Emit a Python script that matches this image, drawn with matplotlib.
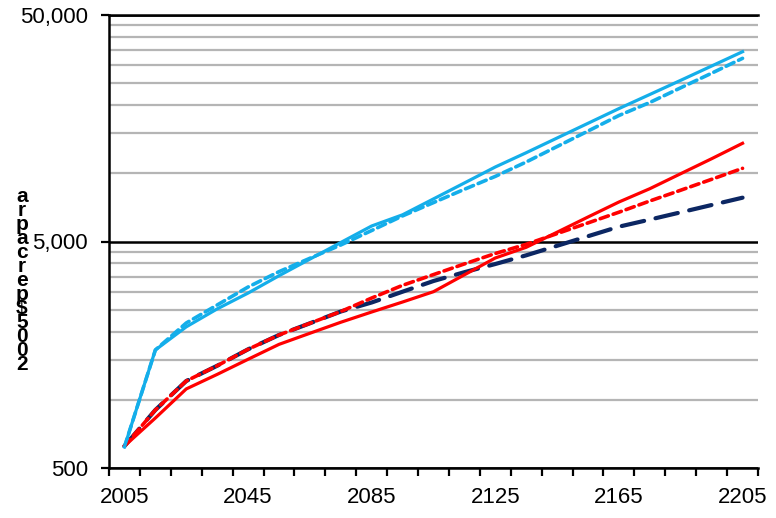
import matplotlib
matplotlib.use('Agg')
import matplotlib.pyplot as plt
import numpy as np

# ---------------- data ----------------
years = list(range(2005, 2206, 10))
label_years = [2005, 2045, 2085, 2125, 2165, 2205]

blue_solid = [620, 1660, 2100, 2520, 2960, 3530, 4180, 4950, 5855, 6560, 7710,
              9065, 10665, 12330, 14320, 16630, 19310, 22290, 25740, 29770, 34430]
blue_dashed = [620, 1660, 2184, 2622, 3148, 3679, 4216, 4826, 5591, 6487, 7426,
               8501, 9692, 11220, 13130, 15370, 18000, 20550, 23860, 27670, 32190]
red_solid = [625, 831, 1117, 1295, 1510, 1757, 1967, 2200, 2442, 2703, 3002,
             3564, 4229, 4714, 5496, 6415, 7470, 8553, 9963, 11600, 13570]
red_dashed = [625, 902, 1211, 1414, 1671, 1933, 2177, 2454, 2815, 3203, 3572,
              3981, 4426, 4860, 5418, 6040, 6734, 7548, 8423, 9410, 10520]
navy_dashed = [625, 902, 1211, 1414, 1671, 1933, 2177, 2454, 2690, 3002, 3346,
               3660, 3977, 4345, 4787, 5276, 5813, 6248, 6727, 7246, 7806]

y_major = [500, 5000, 50000]
y_major_labels = ["500", "5,000", "50,000"]
y_minor = [1000, 1500, 2000, 2500, 3000, 3500, 4000, 4500,
           10000, 15000, 20000, 25000, 30000, 35000, 40000, 45000]
ylabel_chars = ["a", "r", "p", "a", "c", "r", "e", "p", "$", "5", "0", "0", "2"]

# ---------------- figure ----------------
plt.rcParams['font.family'] = ['Liberation Sans', 'DejaVu Sans']
W, H = 776, 518
fig = plt.figure(figsize=(W / 100, H / 100), dpi=100)
ax = fig.add_axes([109 / W, 50 / H, (758 - 109) / W, (468 - 15) / H])

x = np.arange(len(years))
blue = '#14AEEA'
red = '#FF0000'
navy = '#0C2763'

ax.plot(x, navy_dashed, color=navy, lw=3.0, dashes=(5.5, 2.8), zorder=3, dash_capstyle='round')
ax.plot(x, red_dashed, color=red, lw=2.6, dashes=(2.4, 1.4), zorder=4, dash_capstyle='round')
ax.plot(x, red_solid, color=red, lw=2.3, zorder=5)
ax.plot(x, blue_dashed, color=blue, lw=2.6, dashes=(2.4, 1.4), zorder=4, dash_capstyle='round')
ax.plot(x, blue_solid, color=blue, lw=2.3, zorder=5)

ax.set_yscale('log')
ax.set_ylim(500, 50000)
ax.set_xlim(-0.5, len(years) - 0.5)

# y ticks
ax.yaxis.set_major_locator(matplotlib.ticker.FixedLocator(y_major))
ax.yaxis.set_major_formatter(matplotlib.ticker.FixedFormatter(y_major_labels))
ax.yaxis.set_minor_locator(matplotlib.ticker.FixedLocator(y_minor))
ax.yaxis.set_minor_formatter(matplotlib.ticker.NullFormatter())
ax.tick_params(axis='y', which='major', direction='out', length=6, width=1.6,
               labelsize=16, pad=9, color='black')
ax.tick_params(axis='y', which='minor', length=0)
ax.grid(axis='y', which='minor', color='#B5B5B5', lw=1.6, zorder=1)
ax.grid(axis='y', which='major', color='black', lw=1.8, zorder=1)

# x ticks: marks at category boundaries, labels at category centres
ax.set_xticks(np.arange(-0.5, len(years), 1.0))
ax.set_xticklabels([])
ax.set_xticks([years.index(y) for y in label_years], minor=True)
ax.set_xticklabels([str(y) for y in label_years], minor=True)
ax.tick_params(axis='x', which='major', direction='out', length=6, width=1.6)
ax.tick_params(axis='x', which='minor', length=0, labelsize=16, pad=14)

ax.spines['right'].set_visible(False)
ax.spines['top'].set_linewidth(1.8)
ax.spines['left'].set_linewidth(1.8)
ax.spines['bottom'].set_linewidth(1.8)
ax.set_axisbelow(True)

# stacked y-axis label (characters overlap as in the reference)
y_top, y_bot = 196, 365
for i, ch in enumerate(ylabel_chars):
    yp = y_top + (y_bot - y_top) * i / (len(ylabel_chars) - 1)
    fig.text(22 / W, 1 - yp / H, ch, ha='center', va='center', fontsize=15,
             fontweight='bold')

fig.savefig('out.png', dpi=100)
